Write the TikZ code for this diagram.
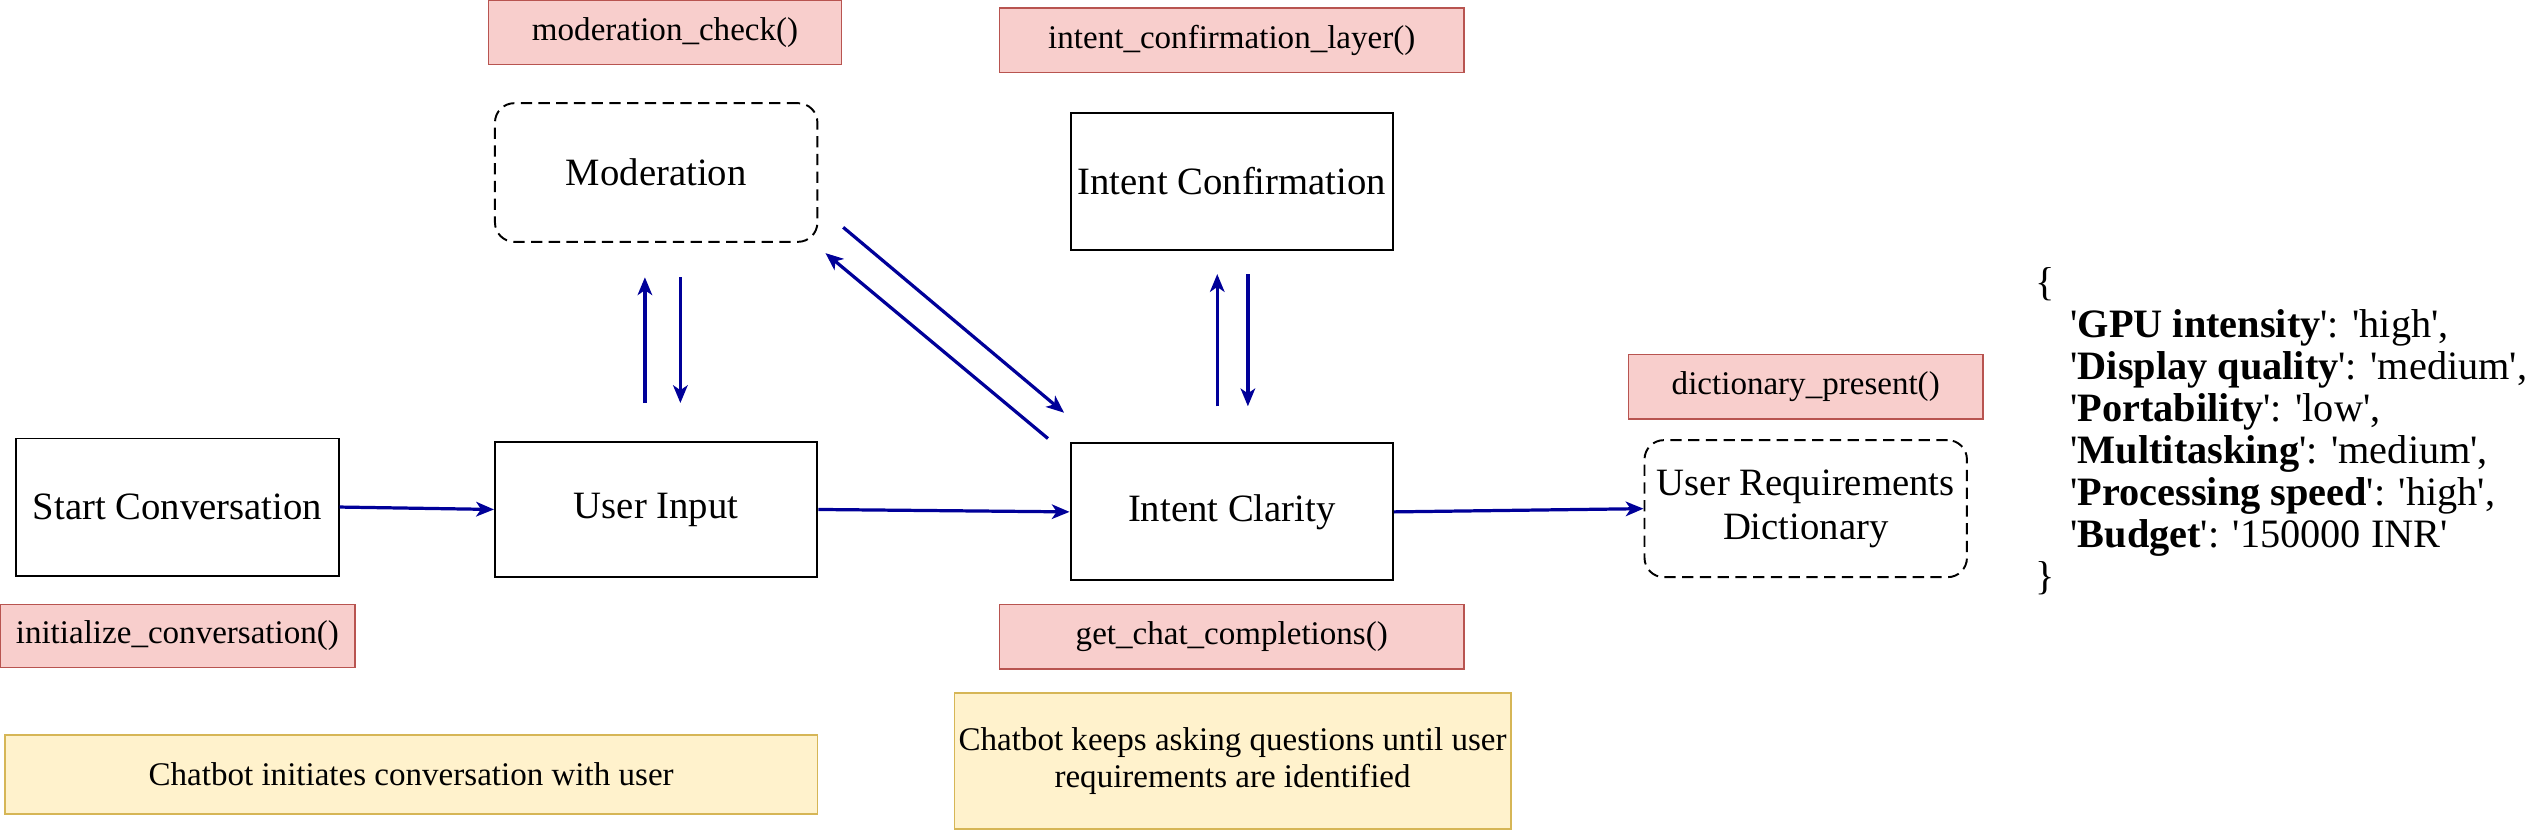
\documentclass[tikz,border=0pt]{standalone}
\usepackage{fontspec}
\setmainfont{Liberation Serif}
\usetikzlibrary{arrows.meta}
\definecolor{redfill}{HTML}{F8CECC}
\definecolor{reddraw}{HTML}{B85450}
\definecolor{yelfill}{HTML}{FFF2CC}
\definecolor{yeldraw}{HTML}{D6B656}
\definecolor{arrowblue}{HTML}{000099}
\newcommand{\myq}{\textquotesingle}
\begin{document}
\begin{tikzpicture}[x=1pt,y=-1pt,
  box/.style={draw=black, line width=1.2pt, minimum width=200pt, minimum height=85pt,
    inner sep=0pt, align=center, font=\fontsize{24}{27}\selectfont},
  dbox/.style={box, dashed, dash pattern=on 7pt off 4pt, rounded corners=12pt},
  fnlabel/.style={draw=reddraw, fill=redfill, line width=1pt, minimum height=40pt,
    inner sep=0pt, font=\fontsize{20.5}{24}\selectfont},
  note/.style={draw=yeldraw, fill=yelfill, line width=1pt, inner sep=0pt, align=center,
    font=\fontsize{20.5}{23}\selectfont},
  flow/.style={draw=arrowblue, line width=2pt,
    -{Stealth[length=11pt, width=9pt, inset=3pt]}},
  dict/.style={align=left, inner sep=0pt, font=\fontsize{25}{26}\selectfont}
]
\useasboundingbox (0,0) rectangle (1568,515.4);

% function labels
\node[fnlabel, minimum width=219pt] (modlabel) at (412.5,20) {moderation\_check()};
\node[fnlabel, minimum width=288pt] (iclabel) at (764,25) {intent\_confirmation\_layer()};
\node[fnlabel, minimum width=220pt] (dictlabel) at (1120,240) {dictionary\_present()};
\node[fnlabel, minimum width=220pt, minimum height=39pt] (initlabel) at (110,394.5) {initialize\_conversation()};
\node[fnlabel, minimum width=288pt] (getlabel) at (764,395) {get\_chat\_completions()};

% main boxes
\node[dbox, minimum height=86pt] (mod) at (407,107) {Moderation};
\node[box] (iconf) at (764,112.5) {Intent Confirmation};
\node[box] (start) at (110,314.5) {Start Conversation};
\node[box, minimum height=84pt] (ui) at (407,316) {User Input};
\node[box] (ic) at (764,317.5) {Intent Clarity};
\node[dbox] (urd) at (1120,315.5) {User Requirements\\Dictionary};

% notes
\node[note, minimum width=504pt, minimum height=49pt] (n1) at (255,480.5) {Chatbot initiates conversation with user};
\node[note, minimum width=345pt, minimum height=84pt] (n2) at (764.5,472) {Chatbot keeps asking questions until user\\requirements are identified};

% dictionary text
\node[dict, anchor=north west] (dict) at (1262,166) {\{\\
\hspace*{22pt}\myq\textbf{GPU intensity}\myq: \myq high\myq,\\
\hspace*{22pt}\myq\textbf{Display quality}\myq: \myq medium\myq,\\
\hspace*{22pt}\myq\textbf{Portability}\myq: \myq low\myq,\\
\hspace*{22pt}\myq\textbf{Multitasking}\myq: \myq medium\myq,\\
\hspace*{22pt}\myq\textbf{Processing speed}\myq: \myq high\myq,\\
\hspace*{22pt}\myq\textbf{Budget}\myq: \myq 150000 INR\myq\\
\}};

% free connector ends
\coordinate (mu1) at (400,250);
\coordinate (mu2) at (400,172);
\coordinate (md1) at (422,172);
\coordinate (md2) at (422,250);
\coordinate (d1s) at (523,141);
\coordinate (d1e) at (660,256);
\coordinate (d2s) at (650,272);
\coordinate (d2e) at (512,157);
\coordinate (cu1) at (755,252);
\coordinate (cu2) at (755,170);
\coordinate (cd1) at (774,170);
\coordinate (cd2) at (774,252);

% connectors
\draw[flow] (start.east) -- (ui.west);
\draw[flow] (ui.east) -- (ic.west);
\draw[flow] (ic.east) -- (urd.west);
\draw[flow] (mu1) -- (mu2);
\draw[flow] (md1) -- (md2);
\draw[flow] (d1s) -- (d1e);
\draw[flow] (d2s) -- (d2e);
\draw[flow] (cu1) -- (cu2);
\draw[flow] (cd1) -- (cd2);
\end{tikzpicture}
\end{document}
